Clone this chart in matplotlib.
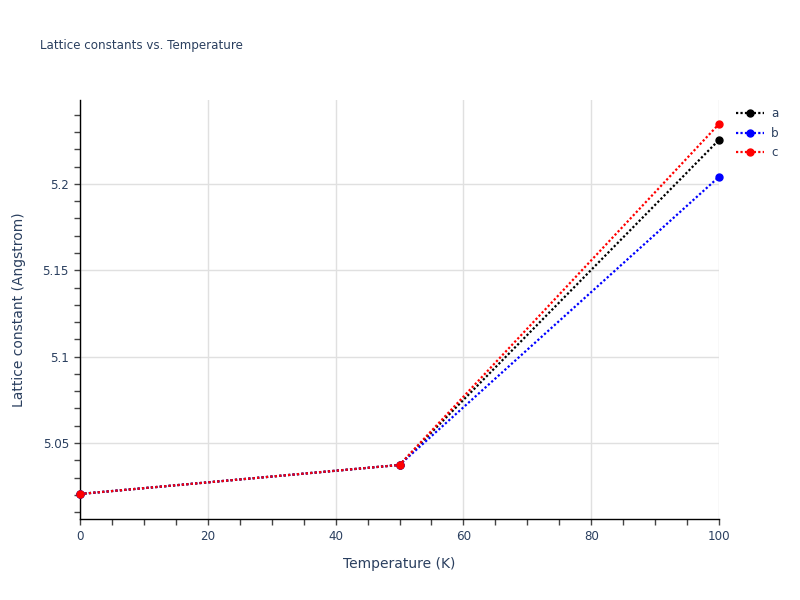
import matplotlib
matplotlib.use("Agg")
import matplotlib.pyplot as plt
from matplotlib.ticker import MultipleLocator

plt.rcParams['font.family'] = ['DejaVu Sans']

temps = [0, 50, 100]
lat_a = [5.0205, 5.0373, 5.2255]
lat_b = [5.0205, 5.0373, 5.2041]
lat_c = [5.0205, 5.0373, 5.2347]
series = [("a", lat_a, "black"), ("b", lat_b, "blue"), ("c", lat_c, "red")]

txt = "#2a3f5f"

fig = plt.figure(figsize=(8, 6), dpi=100)
ax = fig.add_axes([80/800, 1-519/600, 639/800, 419/600])

for name, vals, col in series:
    ax.plot(temps, vals, linestyle=(0, (1, 1)), lw=1.6, color=col,
            marker="o", markersize=5, label=name, clip_on=False, zorder=3)

ax.set_xlim(0, 100)
ax.set_ylim(5.006, 5.2486)
ax.xaxis.set_major_locator(MultipleLocator(20))
ax.xaxis.set_minor_locator(MultipleLocator(5))
ax.yaxis.set_major_locator(MultipleLocator(0.05))
ax.yaxis.set_minor_locator(MultipleLocator(0.01))
ax.yaxis.set_major_formatter(plt.FuncFormatter(lambda v, p: ("%.2f" % v).rstrip("0").rstrip(".")))

ax.grid(True, which="major", color="#e0e0e0", lw=1)
ax.set_axisbelow(True)
for s in ["top", "right"]:
    ax.spines[s].set_visible(False)
for s in ["left", "bottom"]:
    ax.spines[s].set_color("black")
    ax.spines[s].set_linewidth(1)

ax.tick_params(which="both", direction="out", length=4, width=1, color="#444444",
               labelsize=8.6, labelcolor=txt, pad=4)

ax.set_xlabel("Temperature (K)", fontsize=10, color=txt, labelpad=10)
ax.set_ylabel("Lattice constant (Angstrom)", fontsize=10, color=txt, labelpad=12)
fig.text(40/800, 1-45/600, "Lattice constants vs. Temperature", fontsize=8.6,
         color=txt, va="center", ha="left")

ax.legend(loc="upper left", bbox_to_anchor=(1.016, 1.0), frameon=False,
          fontsize=8.6, labelcolor=txt, handlelength=2.3, handletextpad=0.6,
          borderaxespad=0.2, labelspacing=0.55)

fig.savefig("out.png", dpi=100)
